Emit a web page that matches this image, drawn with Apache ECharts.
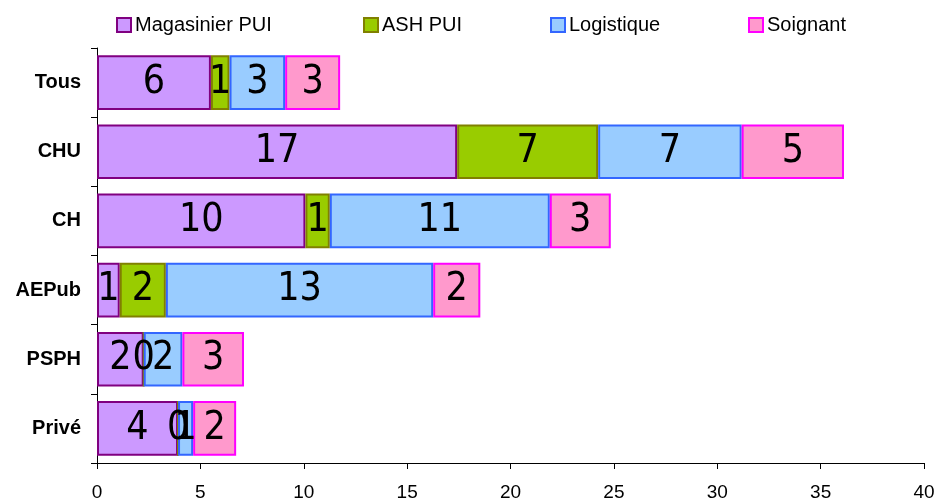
<!DOCTYPE html>
<html>
<head>
<meta charset="utf-8">
<script src="https://cdn.jsdelivr.net/npm/echarts@6/dist/echarts.min.js"></script>
<style>
html,body{margin:0;padding:0;background:#fff;}
#c{width:939px;height:503px;}
</style>
</head>
<body>
<div id="c"></div>
<script>
const categories = ['Tous', 'CHU', 'CH', 'AEPub', 'PSPH', 'Privé'];
const magasinier = [5.51, 17.42, 10.08, 1.10, 2.26, 3.92];
const ash = [0.90, 6.82, 1.18, 2.23, 0, 0];
const logistique = [2.69, 6.94, 10.64, 12.93, 1.87, 0.73];
const soignant = [2.66, 4.95, 2.95, 2.28, 2.98, 2.08];
const seriesNames = ['Magasinier PUI', 'ASH PUI', 'Logistique', 'Soignant'];
const xTicks = [0, 5, 10, 15, 20, 25, 30, 35, 40];

const fills = ['#CC99FF', '#99CC00', '#99CCFF', '#FF99CC'];
const borders = ['#800080', '#808000', '#3366FF', '#FF00FF'];
const values = [magasinier, ash, logistique, soignant];
const legendLeft = [116, 363, 550, 748];

const chart = echarts.init(document.getElementById('c'), null, {renderer: 'canvas'});
const labelFont = "'Liberation Sans Narrow', 'Arial Narrow', 'DejaVu Sans Condensed', 'Roboto Condensed', sans-serif";
const baseFont = "'Liberation Sans', Arial, sans-serif";

chart.setOption({
  animation: false,
  backgroundColor: '#fff',
  legend: seriesNames.map((n, i) => ({
    data: [{name: n, icon: 'rect'}],
    left: legendLeft[i],
    top: 15,
    itemWidth: 14,
    itemHeight: 14,
    itemGap: 5,
    padding: 0,
    textStyle: {fontFamily: baseFont, fontSize: 20, color: '#000', padding: [0, 0, 0, -1]}
  })),
  grid: {left: 97, right: 15, top: 48, bottom: 40, containLabel: false},
  xAxis: {
    type: 'value', min: xTicks[0], max: xTicks[xTicks.length - 1], interval: 5,
    axisLine: {show: true, lineStyle: {color: '#000', width: 1}},
    axisTick: {show: true, length: 6, lineStyle: {color: '#000'}},
    splitLine: {show: false},
    axisLabel: {fontFamily: baseFont, fontSize: 19, color: '#000', margin: 20}
  },
  yAxis: {
    type: 'category', data: categories, inverse: true,
    axisLine: {show: true, lineStyle: {color: '#000', width: 1}},
    axisTick: {show: true, length: 6, lineStyle: {color: '#000'}},
    axisLabel: {fontFamily: baseFont, fontSize: 20, fontWeight: 'bold', color: '#000', margin: 16}
  },
  series: seriesNames.map((n, i) => ({
    name: n,
    type: 'bar',
    stack: 'total',
    data: values[i],
    barCategoryGap: '21%',
    itemStyle: {color: fills[i], borderColor: borders[i], borderWidth: 2},
    label: {
      show: true, position: 'inside', color: '#000',
      fontFamily: labelFont, fontSize: 39,
      formatter: p => String(Math.round(p.value))
    }
  }))
});
</script>
</body>
</html>
